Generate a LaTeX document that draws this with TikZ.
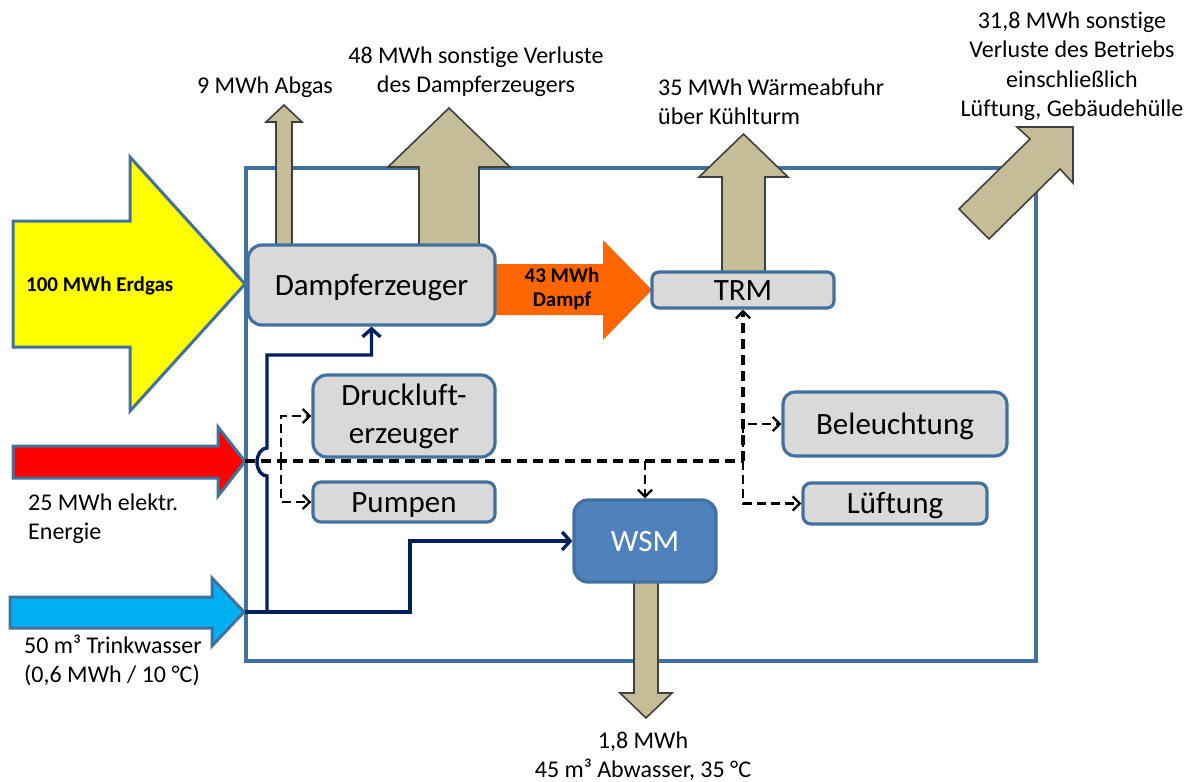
\documentclass[tikz,border=0pt]{standalone}
\usepackage{fontspec}
\setmainfont{Carlito}[Ligatures=NoCommon]
\usetikzlibrary{arrows.meta}

\definecolor{boxblue}{HTML}{41719C}
\definecolor{boxgray}{HTML}{D9D9D9}
\definecolor{wsmfill}{HTML}{4F81BD}
\definecolor{tanfill}{HTML}{C4BD97}
\definecolor{tanline}{HTML}{404040}
\definecolor{navyline}{HTML}{002060}
\definecolor{gasfill}{HTML}{FFFF00}
\definecolor{elfill}{HTML}{FF0000}
\definecolor{waterfill}{HTML}{00B0F0}
\definecolor{steamfill}{HTML}{FF6600}

% multi-line labels whose baseline is the first line
\newcommand\clines[1]{\begin{tabular}[t]{@{}c@{}}#1\end{tabular}}
\newcommand\llines[1]{\begin{tabular}[t]{@{}l@{}}#1\end{tabular}}

\tikzset{
  unit/.style={draw=boxblue, line width=3.2pt, fill=boxgray, inner sep=0pt,
    text height=20pt, text depth=0pt,
    font=\fontsize{31pt}{38pt}\selectfont},
  lbl/.style={inner sep=0pt, font=\fontsize{24pt}{29.5pt}\selectfont},
  boldlbl/.style={inner sep=0pt, font=\fontsize{21pt}{24pt}\selectfont\bfseries},
  flowin/.style={draw=boxblue, line width=3pt},
  loss/.style={fill=tanfill, draw=tanline, line width=1.6pt},
  water/.style={draw=navyline, line width=3.4pt,
    -{Straight Barb[length=8pt,width=18pt,line width=3.4pt]}},
  power/.style={draw=black, line width=3.4pt, dash pattern=on 10pt off 6pt},
  powerbranch/.style={draw=black, line width=2.4pt, dash pattern=on 9pt off 5pt,
    -{Straight Barb[length=7pt,width=14pt,line width=2.4pt]}},
}

\begin{document}
\begin{tikzpicture}[x=1pt,y=-1pt]
\useasboundingbox (0,0) rectangle (1195,782);

% plant boundary
\draw[boxblue, line width=3.4pt] (246,168) rectangle (1036,661);

% energy inputs
\draw[flowin, fill=gasfill] (13,221) -- (130,221) -- (130,157) -- (245,284)
  -- (130,411) -- (130,347) -- (13,347) -- cycle;
\draw[flowin, fill=elfill] (13,446) -- (218,446) -- (218,427) -- (245,461.5)
  -- (218,496) -- (218,478) -- (13,478) -- cycle;
\draw[flowin, fill=waterfill] (10,597) -- (212,597) -- (212,578) -- (244,612)
  -- (212,646) -- (212,628) -- (10,628) -- cycle;

% steam to TRM
\fill[steamfill] (495,264) -- (603,264) -- (603,240) -- (652,290)
  -- (603,340) -- (603,315) -- (495,315) -- cycle;

% losses
\draw[loss] (276,247) -- (276,122) -- (266,122) -- (284,105) -- (302,122)
  -- (292,122) -- (292,247) -- cycle;
\draw[loss] (419,247) -- (419,167) -- (388,167) -- (449,108) -- (510,167)
  -- (479,167) -- (479,247) -- cycle;
\draw[loss] (722,273) -- (722,177) -- (699,177) -- (743.5,134) -- (788,177)
  -- (765,177) -- (765,273) -- cycle;
\draw[loss] (634,580) -- (634,693) -- (620,693) -- (646,718) -- (672,693)
  -- (658,693) -- (658,580) -- cycle;
\draw[loss] (1017,127) -- (1073,127) -- (1073,183) -- (1060,169) -- (989,239)
  -- (959,209) -- (1030,139) -- cycle;

% units
\node[unit, minimum width=247pt, minimum height=80pt, rounded corners=14pt]
  (dampf) at (371.5,285) {Dampferzeuger};
\node[unit, minimum width=182pt, minimum height=36pt, rounded corners=7pt]
  (trm) at (743,290) {TRM};
\node[unit, minimum width=182pt, minimum height=82pt, rounded corners=14pt,
  text depth=42pt] (druck) at (404,416) {\clines{Druckluft-\\erzeuger}};
\node[unit, minimum width=182pt, minimum height=40pt, rounded corners=8pt]
  (pumpen) at (404,502) {Pumpen};
\node[unit, minimum width=224pt, minimum height=64pt, rounded corners=12pt]
  (beleucht) at (895,424) {Beleuchtung};
\node[unit, minimum width=184pt, minimum height=41pt, rounded corners=8pt]
  (lueft) at (895,503.5) {Lüftung};
\node[unit, fill=wsmfill, text=white, minimum width=142pt, minimum height=82pt,
  rounded corners=14pt] (wsm) at (645,541) {WSM};

% drinking water supply
\coordinate (wtip) at (245,612);
\draw[water] (wtip) -- (267,612) -- (267,476)
  arc[start angle=90, end angle=270, x radius=10, y radius=14]
  -- (267,355) -| (dampf.south);
\draw[water] (wtip) -- (410,612) |- (wsm.west);

% electric power distribution
\coordinate (etip) at (245,461);
\coordinate (hub) at (743,461);
\coordinate (lefthub) at (281,461);
\coordinate (wsmhub) at (645,461);
\draw[power] (etip) -- (hub);
\draw[power, -{Straight Barb[length=7pt,width=14pt,line width=2.4pt]}]
  (hub) -- (trm.south);
\draw[powerbranch] (hub) |- (beleucht.west);
\draw[powerbranch] (hub) |- (lueft.west);
\draw[powerbranch] (wsmhub) -- (wsm.north);
\draw[powerbranch] (lefthub) |- (druck.west);
\draw[powerbranch] (lefthub) |- (pumpen.west);

% labels
\node[boldlbl, anchor=base west] (gaslbl) at (26,291) {100 MWh Erdgas};
\node[boldlbl, anchor=base] (steamlbl) at (562,282) {\clines{43 MWh\\Dampf}};
\node[lbl, anchor=base] (abgaslbl) at (265,93) {9 MWh Abgas};
\node[lbl, anchor=base] (dverlbl) at (476,63)
  {\clines{48 MWh sonstige Verluste\\des Dampferzeugers}};
\node[lbl, anchor=base west] (kuehllbl) at (658,95)
  {\llines{35 MWh Wärmeabfuhr\\über Kühlturm}};
\node[lbl, anchor=base] (betrlbl) at (1072,28)
  {\clines{31,8 MWh sonstige\\Verluste des Betriebs\\einschließlich\\Lüftung, Gebäudehülle}};
\node[lbl, anchor=base west] (ellbl) at (28,510)
  {\llines{25 MWh elektr.\\Energie}};
\node[lbl, anchor=base west] (wasserlbl) at (24,653)
  {\llines{50 m³ Trinkwasser\\(0,6 MWh / 10 °C)}};
\node[lbl, anchor=base] (abwlbl) at (643,748)
  {\clines{1,8 MWh\\45 m³ Abwasser, 35 °C}};
\end{tikzpicture}
\end{document}
